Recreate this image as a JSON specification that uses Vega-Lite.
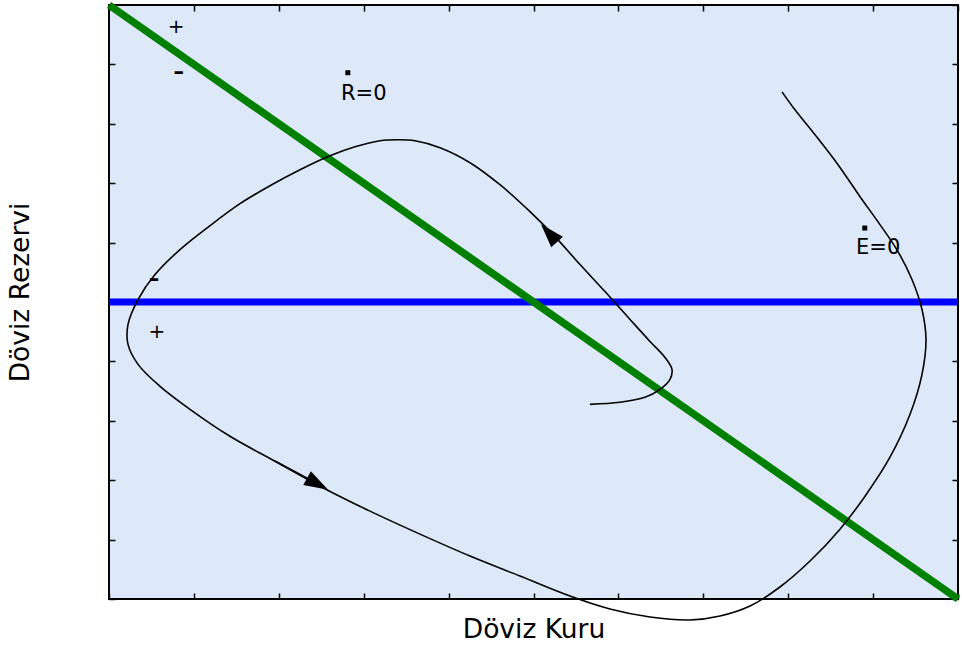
{
  "$schema": "https://vega.github.io/schema/vega-lite/v6.json",
  "width": 849,
  "height": 594,
  "autosize": "none",
  "padding": {"left": 109, "top": 5, "right": 4, "bottom": 50},
  "background": "white",
  "config": {
    "view": {"fill": "#dde9f9", "stroke": "black", "strokeWidth": 2},
    "font": "DejaVu Sans",
    "axis": {
      "domain": false,
      "grid": false,
      "labels": false,
      "ticks": true,
      "tickColor": "black",
      "tickWidth": 1.5,
      "tickSize": -6,
      "titleFont": "DejaVu Sans",
      "titleFontSize": 26.5,
      "titleFontWeight": "normal",
      "titleColor": "black"
    }
  },
  "datasets": {
    "fx_line": [{"x": 0, "y": 10}, {"x": 10, "y": 0}],
    "reserve_line": [{"x": 0, "y": 5}, {"x": 10, "y": 5}],
    "path": [
      {"i": 0, "x": 5.665, "y": 3.277},
      {"i": 1, "x": 6.019, "y": 3.311},
      {"i": 2, "x": 6.313, "y": 3.395},
      {"i": 3, "x": 6.49, "y": 3.529},
      {"i": 4, "x": 6.608, "y": 3.697},
      {"i": 5, "x": 6.631, "y": 3.866},
      {"i": 6, "x": 6.549, "y": 4.067},
      {"i": 7, "x": 6.372, "y": 4.336},
      {"i": 8, "x": 6.137, "y": 4.706},
      {"i": 9, "x": 5.842, "y": 5.176},
      {"i": 10, "x": 5.548, "y": 5.63},
      {"i": 11, "x": 5.253, "y": 6.101},
      {"i": 12, "x": 4.959, "y": 6.521},
      {"i": 13, "x": 4.605, "y": 6.975},
      {"i": 14, "x": 4.252, "y": 7.345},
      {"i": 15, "x": 3.899, "y": 7.597},
      {"i": 16, "x": 3.604, "y": 7.714},
      {"i": 17, "x": 3.404, "y": 7.731},
      {"i": 18, "x": 3.192, "y": 7.714},
      {"i": 19, "x": 2.898, "y": 7.613},
      {"i": 20, "x": 2.603, "y": 7.462},
      {"i": 21, "x": 2.25, "y": 7.227},
      {"i": 22, "x": 1.896, "y": 6.958},
      {"i": 23, "x": 1.543, "y": 6.655},
      {"i": 24, "x": 1.19, "y": 6.286},
      {"i": 25, "x": 0.836, "y": 5.882},
      {"i": 26, "x": 0.542, "y": 5.462},
      {"i": 27, "x": 0.342, "y": 5.042},
      {"i": 28, "x": 0.224, "y": 4.622},
      {"i": 29, "x": 0.224, "y": 4.286},
      {"i": 30, "x": 0.342, "y": 3.95},
      {"i": 31, "x": 0.601, "y": 3.58},
      {"i": 32, "x": 0.954, "y": 3.193},
      {"i": 33, "x": 1.425, "y": 2.739},
      {"i": 34, "x": 1.955, "y": 2.319},
      {"i": 35, "x": 2.485, "y": 1.899},
      {"i": 36, "x": 3.074, "y": 1.479},
      {"i": 37, "x": 3.663, "y": 1.092},
      {"i": 38, "x": 4.252, "y": 0.723},
      {"i": 39, "x": 4.841, "y": 0.387},
      {"i": 40, "x": 5.43, "y": 0.05},
      {"i": 41, "x": 5.901, "y": -0.168},
      {"i": 42, "x": 6.372, "y": -0.303},
      {"i": 43, "x": 6.843, "y": -0.353},
      {"i": 44, "x": 7.197, "y": -0.286},
      {"i": 45, "x": 7.55, "y": -0.118},
      {"i": 46, "x": 7.903, "y": 0.202},
      {"i": 47, "x": 8.257, "y": 0.639},
      {"i": 48, "x": 8.61, "y": 1.176},
      {"i": 49, "x": 8.905, "y": 1.731},
      {"i": 50, "x": 9.199, "y": 2.387},
      {"i": 51, "x": 9.435, "y": 3.109},
      {"i": 52, "x": 9.576, "y": 3.782},
      {"i": 53, "x": 9.623, "y": 4.37},
      {"i": 54, "x": 9.576, "y": 4.874},
      {"i": 55, "x": 9.458, "y": 5.378},
      {"i": 56, "x": 9.293, "y": 5.849},
      {"i": 57, "x": 9.081, "y": 6.303},
      {"i": 58, "x": 8.846, "y": 6.773},
      {"i": 59, "x": 8.587, "y": 7.311},
      {"i": 60, "x": 8.316, "y": 7.815},
      {"i": 61, "x": 8.08, "y": 8.235},
      {"i": 62, "x": 7.927, "y": 8.538}
    ],
    "shaft": [{"x": 1.955, "y": 2.326}, {"x": 2.462, "y": 1.939}],
    "plus_signs": [
      {"x": 0.791, "y": 9.625, "t": "+"},
      {"x": 0.565, "y": 4.496, "t": "+"}
    ],
    "minus_signs": [
      {"x": 0.821, "y": 8.86, "t": "–"},
      {"x": 0.53, "y": 5.367, "t": "–"}
    ],
    "eq_points": [
      {"x": 2.813, "y": 8.86},
      {"x": 8.902, "y": 6.245}
    ],
    "eq_labels": [
      {"x": 2.733, "y": 8.397, "t": "R=0"},
      {"x": 8.799, "y": 5.807, "t": "E=0"}
    ]
  },
  "layer": [
    {
      "data": {"name": "reserve_line"},
      "mark": {"type": "line", "color": "#0000ff", "strokeWidth": 7, "clip": false},
      "encoding": {
        "x": {"field": "x", "type": "quantitative", "scale": {"domain": [0, 10], "nice": false, "zero": false},
          "axis": {"orient": "top", "title": null, "values": [0, 1, 2, 3, 4, 5, 6, 7, 8, 9, 10]}},
        "y": {"field": "y", "type": "quantitative", "scale": {"domain": [0, 10], "nice": false, "zero": false},
          "axis": {"orient": "right", "title": null, "values": [0, 1, 2, 3, 4, 5, 6, 7, 8, 9, 10]}}
      }
    },
    {
      "data": {"name": "fx_line"},
      "mark": {"type": "line", "color": "#008000", "strokeWidth": 7.5, "clip": false},
      "encoding": {
        "x": {"field": "x", "type": "quantitative", "scale": {"domain": [0, 10], "nice": false, "zero": false},
          "axis": {"orient": "bottom", "title": "Döviz Kuru", "values": [0, 1, 2, 3, 4, 5, 6, 7, 8, 9, 10],
            "titleBaseline": "alphabetic", "titleY": 38}},
        "y": {"field": "y", "type": "quantitative", "scale": {"domain": [0, 10], "nice": false, "zero": false},
          "axis": {"orient": "left", "title": "Döviz Rezervi", "values": [0, 1, 2, 3, 4, 5, 6, 7, 8, 9, 10],
            "titleBaseline": "alphabetic", "titleX": -81, "titleY": 287, "titleAngle": -90}}
      }
    },
    {
      "data": {"name": "path"},
      "mark": {"type": "line", "color": "black", "strokeWidth": 1.6, "interpolate": "catmull-rom", "clip": false},
      "encoding": {
        "x": {"field": "x", "type": "quantitative", "scale": {"domain": [0, 10], "nice": false, "zero": false}, "axis": null},
        "y": {"field": "y", "type": "quantitative", "scale": {"domain": [0, 10], "nice": false, "zero": false}, "axis": null},
        "order": {"field": "i", "type": "quantitative"}
      }
    },
    {
      "data": {"name": "shaft"},
      "mark": {"type": "line", "color": "black", "strokeWidth": 1.4, "clip": false},
      "encoding": {
        "x": {"field": "x", "type": "quantitative", "scale": {"domain": [0, 10], "nice": false, "zero": false}, "axis": null},
        "y": {"field": "y", "type": "quantitative", "scale": {"domain": [0, 10], "nice": false, "zero": false}, "axis": null}
      }
    },
    {
      "data": {"values": [{"x": 5.183, "y": 6.16}]},
      "mark": {"type": "point", "shape": "M0,-1L0.65,1L-0.65,1Z", "filled": true, "color": "black", "opacity": 1, "size": 580, "angle": 318},
      "encoding": {
        "x": {"field": "x", "type": "quantitative", "scale": {"domain": [0, 10], "nice": false, "zero": false}, "axis": null},
        "y": {"field": "y", "type": "quantitative", "scale": {"domain": [0, 10], "nice": false, "zero": false}, "axis": null}
      }
    },
    {
      "data": {"values": [{"x": 2.457, "y": 1.937}]},
      "mark": {"type": "point", "shape": "M0,-1L0.65,1L-0.65,1Z", "filled": true, "color": "black", "opacity": 1, "size": 580, "angle": 119},
      "encoding": {
        "x": {"field": "x", "type": "quantitative", "scale": {"domain": [0, 10], "nice": false, "zero": false}, "axis": null},
        "y": {"field": "y", "type": "quantitative", "scale": {"domain": [0, 10], "nice": false, "zero": false}, "axis": null}
      }
    },
    {
      "data": {"name": "eq_points"},
      "mark": {"type": "point", "shape": "square", "filled": true, "color": "black", "opacity": 1, "size": 25},
      "encoding": {
        "x": {"field": "x", "type": "quantitative", "scale": {"domain": [0, 10], "nice": false, "zero": false}, "axis": null},
        "y": {"field": "y", "type": "quantitative", "scale": {"domain": [0, 10], "nice": false, "zero": false}, "axis": null}
      }
    },
    {
      "data": {"name": "eq_labels"},
      "mark": {"type": "text", "font": "DejaVu Sans", "fontSize": 21, "align": "left", "baseline": "alphabetic", "color": "black"},
      "encoding": {
        "x": {"field": "x", "type": "quantitative", "scale": {"domain": [0, 10], "nice": false, "zero": false}, "axis": null},
        "y": {"field": "y", "type": "quantitative", "scale": {"domain": [0, 10], "nice": false, "zero": false}, "axis": null},
        "text": {"field": "t"}
      }
    },
    {
      "data": {"name": "plus_signs"},
      "mark": {"type": "text", "font": "DejaVu Sans", "fontSize": 20, "align": "center", "baseline": "middle", "color": "black"},
      "encoding": {
        "x": {"field": "x", "type": "quantitative", "scale": {"domain": [0, 10], "nice": false, "zero": false}, "axis": null},
        "y": {"field": "y", "type": "quantitative", "scale": {"domain": [0, 10], "nice": false, "zero": false}, "axis": null},
        "text": {"field": "t"}
      }
    },
    {
      "data": {"name": "minus_signs"},
      "mark": {"type": "text", "font": "DejaVu Sans", "fontSize": 21, "fontWeight": "bold", "align": "center", "baseline": "middle", "color": "black"},
      "encoding": {
        "x": {"field": "x", "type": "quantitative", "scale": {"domain": [0, 10], "nice": false, "zero": false}, "axis": null},
        "y": {"field": "y", "type": "quantitative", "scale": {"domain": [0, 10], "nice": false, "zero": false}, "axis": null},
        "text": {"field": "t"}
      }
    }
  ],
  "resolve": {"axis": {"x": "independent", "y": "independent"}}
}
